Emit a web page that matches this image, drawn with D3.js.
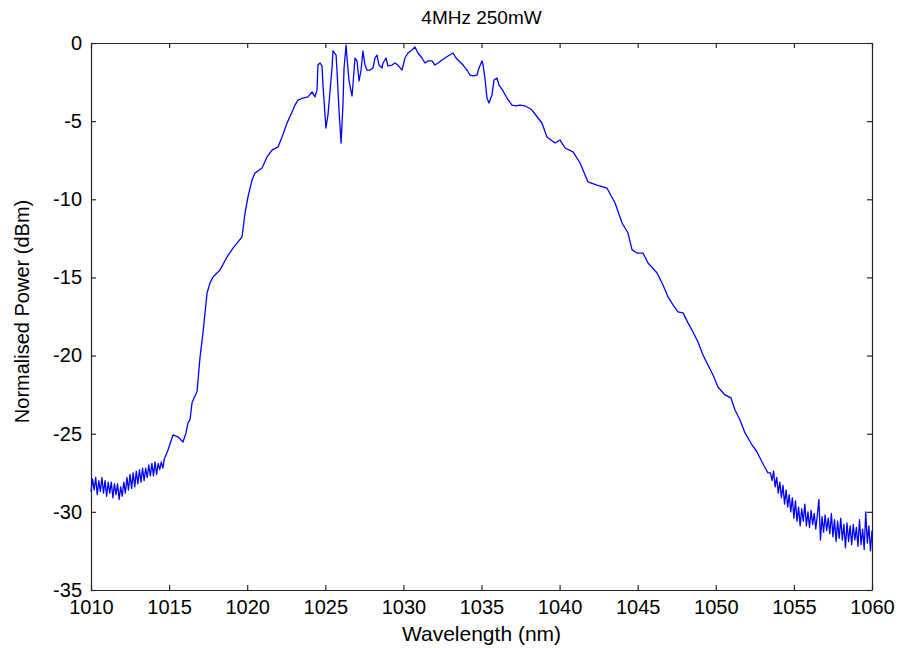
<!DOCTYPE html>
<html>
<head>
<meta charset="utf-8">
<script src="https://cdn.jsdelivr.net/npm/d3@7"></script>
<style>
  body { margin: 0; background: #fff; }
  text { font-family: Arial, "Liberation Sans", sans-serif; fill: #000; }
</style>
</head>
<body>
<div id="chart"></div>
<script>
// wavelength (nm) and normalised power (dBm)
const wavelength = [
  1010.0,1010.1,1010.2,1010.3,1010.4,1010.5,1010.6,1010.7,1010.8,1010.9,
  1011.0,1011.1,1011.2,1011.3,1011.4,1011.5,1011.6,1011.7,1011.8,1011.9,
  1012.0,1012.1,1012.2,1012.3,1012.4,1012.5,1012.6,1012.7,1012.8,1012.9,
  1013.0,1013.1,1013.2,1013.3,1013.4,1013.5,1013.6,1013.7,1013.8,1013.9,
  1014.0,1014.1,1014.2,1014.3,1014.4,1014.5,1014.6,1014.7,1014.93,1015.25,
  1015.57,1015.89,1016.08,1016.21,1016.34,1016.47,1016.79,1016.98,1017.17,1017.30,
  1017.43,1017.62,1017.81,1018.26,1018.71,1019.09,1019.67,1019.86,1020.05,1020.31,
  1020.50,1020.95,1021.27,1021.59,1021.97,1022.23,1022.55,1022.87,1023.06,1023.25,
  1023.57,1023.89,1024.15,1024.34,1024.47,1024.53,1024.66,1024.79,1024.85,1025.04,
  1025.17,1025.43,1025.49,1025.69,1025.75,1025.88,1026.01,1026.13,1026.20,1026.33,
  1026.39,1026.52,1026.71,1026.77,1026.90,1027.03,1027.16,1027.29,1027.41,1027.54,
  1027.67,1027.86,1028.05,1028.18,1028.31,1028.44,1028.63,1028.69,1028.89,1029.01,
  1029.27,1029.46,1029.65,1029.91,1030.10,1030.29,1030.55,1030.74,1030.93,1031.19,
  1031.38,1031.57,1031.83,1032.02,1032.22,1032.47,1032.66,1032.86,1033.18,1033.37,
  1033.56,1033.82,1034.07,1034.26,1034.46,1034.71,1034.84,1035.03,1035.10,1035.22,
  1035.35,1035.48,1035.67,1035.80,1035.99,1036.12,1036.38,1036.63,1036.95,1037.21,
  1037.46,1037.79,1038.04,1038.23,1038.87,1039.19,1039.71,1040.03,1040.35,1040.86,
  1041.31,1041.82,1042.39,1043.03,1043.55,1044.00,1044.38,1044.64,1044.96,1045.34,
  1045.66,1046.24,1046.62,1046.94,1047.26,1047.58,1047.90,1048.22,1048.54,1048.86,
  1049.18,1049.50,1049.82,1050.14,1050.59,1050.97,1051.23,1051.55,1051.87,1052.32,
  1052.64,1052.96,1053.34,
  1053.5,1053.6,1053.7,1053.8,1053.9,1054.0,1054.1,1054.2,1054.3,1054.4,
  1054.5,1054.6,1054.7,1054.8,1054.9,1055.0,1055.1,1055.2,1055.3,1055.4,
  1055.5,1055.6,1055.7,1055.8,1055.9,1056.0,1056.1,1056.2,1056.3,1056.4,
  1056.5,1056.6,1056.7,1056.8,1056.9,1057.0,1057.1,1057.2,1057.3,1057.4,
  1057.5,1057.6,1057.7,1057.8,1057.9,1058.0,1058.1,1058.2,1058.3,1058.4,
  1058.5,1058.6,1058.7,1058.8,1058.9,1059.0,1059.1,1059.2,1059.3,1059.4,
  1059.5,1059.6,1059.7,1059.8,1059.9,1060.0
];
const power = [
  -28.7,-27.9,-28.6,-27.8,-28.9,-28.0,-28.7,-27.8,-28.8,-28.0,
  -29.0,-28.1,-28.8,-28.1,-29.1,-28.2,-28.9,-28.2,-29.2,-28.4,
  -29.0,-28.1,-28.8,-27.8,-28.6,-27.6,-28.5,-27.5,-28.4,-27.4,
  -28.2,-27.3,-28.1,-27.2,-28.0,-27.2,-27.8,-27.0,-27.7,-26.9,
  -27.7,-26.8,-27.6,-26.9,-27.3,-26.8,-27.2,-26.6,-26.04,-25.08,
  -25.2,-25.53,-24.95,-24.31,-24.1,-23.0,-22.3,-20.1,-18.55,-17.27,
  -16.0,-15.35,-14.97,-14.52,-13.69,-13.12,-12.41,-10.88,-9.85,-8.77,
  -8.32,-8.0,-7.29,-6.85,-6.65,-6.01,-5.12,-4.41,-3.97,-3.65,
  -3.52,-3.45,-3.13,-3.45,-3.0,-1.41,-1.28,-1.47,-2.69,-5.44,
  -4.61,-1.60,-0.51,-0.77,-1.79,-4.35,-6.40,-3.97,-1.60,-0.13,
  -0.96,-2.43,-3.39,-2.69,-0.96,-1.15,-2.43,-1.73,-0.51,-1.41,
  -1.73,-1.73,-1.60,-0.96,-0.77,-1.41,-1.60,-1.28,-0.96,-1.47,
  -1.41,-1.28,-1.41,-1.73,-0.96,-0.64,-0.45,-0.26,-0.64,-0.96,
  -1.28,-1.15,-1.15,-1.41,-1.28,-1.09,-0.96,-0.83,-0.64,-0.96,
  -1.15,-1.41,-1.73,-2.05,-2.11,-2.05,-1.60,-1.15,-1.41,-2.24,
  -3.52,-3.84,-3.33,-2.37,-2.24,-2.69,-3.07,-3.52,-3.97,-4.03,
  -3.97,-4.03,-4.16,-4.29,-5.12,-6.01,-6.40,-6.21,-6.72,-6.97,
  -7.68,-8.89,-9.09,-9.28,-10.24,-11.52,-12.16,-13.24,-13.44,-13.44,
  -14.08,-14.72,-15.48,-16.25,-16.76,-17.21,-17.27,-17.91,-18.49,-19.13,
  -19.96,-20.60,-21.24,-22.01,-22.52,-22.71,-23.48,-24.12,-24.95,-25.72,
  -26.17,-26.81,-27.51,
  -27.5,-28.0,-27.4,-28.4,-27.8,-28.8,-28.1,-29.1,-28.3,-29.5,
  -28.6,-29.7,-28.9,-30.0,-29.1,-30.4,-29.3,-30.6,-29.7,-30.9,
  -29.8,-30.6,-29.5,-30.9,-30.0,-31.0,-29.9,-30.8,-30.1,-31.1,
  -30.2,-29.2,-31.8,-30.3,-31.3,-30.2,-31.2,-30.4,-31.4,-30.1,
  -31.6,-30.5,-31.9,-30.6,-31.7,-30.4,-31.8,-30.8,-32.3,-30.7,
  -31.9,-30.9,-32.1,-30.8,-31.8,-31.0,-32.2,-30.5,-32.1,-31.1,
  -32.4,-30.0,-32.0,-30.9,-32.5,-31.2
];
const xTicks = [1010, 1015, 1020, 1025, 1030, 1035, 1040, 1045, 1050, 1055, 1060];
const yTicks = [0, -5, -10, -15, -20, -25, -30, -35];

const chartTitle = "4MHz 250mW";
const xLabel = "Wavelength (nm)";
const yLabel = "Normalised Power (dBm)";

const W = 899, H = 648;
const margin = {top: 43, right: 27, bottom: 58, left: 91};
const width = W - margin.left - margin.right;
const height = H - margin.top - margin.bottom;

const data = wavelength.map((w, i) => ({w: w, p: power[i]}));

const svg = d3.select("#chart").append("svg")
  .attr("width", W)
  .attr("height", H);

const g = svg.append("g")
  .attr("transform", `translate(${margin.left},${margin.top})`);

const x = d3.scaleLinear().domain([1010, 1060]).range([0, width]);
const y = d3.scaleLinear().domain([-35, 0]).range([height, 0]);

// axes, ticks pointing inward on all four sides
const axisColor = "#262626";
const plain = d => String(d);   // no thousands comma, ascii minus

const xAxis = g.append("g")
  .attr("transform", `translate(0,${height})`)
  .call(d3.axisBottom(x).tickValues(xTicks).tickFormat(plain).tickSizeInner(-5).tickSizeOuter(0).tickPadding(10));
const xTop = g.append("g")
  .call(d3.axisTop(x).tickValues(xTicks).tickSizeInner(-5).tickSizeOuter(0).tickFormat(""));
const yAxis = g.append("g")
  .call(d3.axisLeft(y).tickValues(yTicks).tickFormat(plain).tickSizeInner(-5).tickSizeOuter(0).tickPadding(9));
const yRight = g.append("g")
  .attr("transform", `translate(${width},0)`)
  .call(d3.axisRight(y).tickValues(yTicks).tickSizeInner(-5).tickSizeOuter(0).tickFormat(""));

[xAxis, xTop, yAxis, yRight].forEach(a => {
  a.selectAll(".domain").attr("stroke", axisColor).attr("stroke-width", 1.2);
  a.selectAll(".tick line").attr("stroke", axisColor).attr("stroke-width", 1.2);
  a.selectAll(".tick text")
    .style("font-family", "Arial, 'Liberation Sans', sans-serif")
    .style("font-size", "20px")
    .attr("fill", "#000");
});

// spectrum line
const line = d3.line()
  .x(d => x(d.w))
  .y(d => y(d.p));

g.append("path")
  .datum(data)
  .attr("fill", "none")
  .attr("stroke", "#0000ff")
  .attr("stroke-width", 1.3)
  .attr("stroke-linejoin", "round")
  .attr("d", line);

// title and labels
svg.append("text")
  .attr("x", margin.left + width / 2)
  .attr("y", 24)
  .attr("text-anchor", "middle")
  .style("font-size", "19px")
  .text(chartTitle);

svg.append("text")
  .attr("x", margin.left + width / 2)
  .attr("y", 641)
  .attr("text-anchor", "middle")
  .style("font-size", "21px")
  .text(xLabel);

svg.append("text")
  .attr("transform", "rotate(-90)")
  .attr("x", -(margin.top + height / 2 - 5))
  .attr("y", 29)
  .attr("text-anchor", "middle")
  .style("font-size", "20px")
  .text(yLabel);
</script>
</body>
</html>
